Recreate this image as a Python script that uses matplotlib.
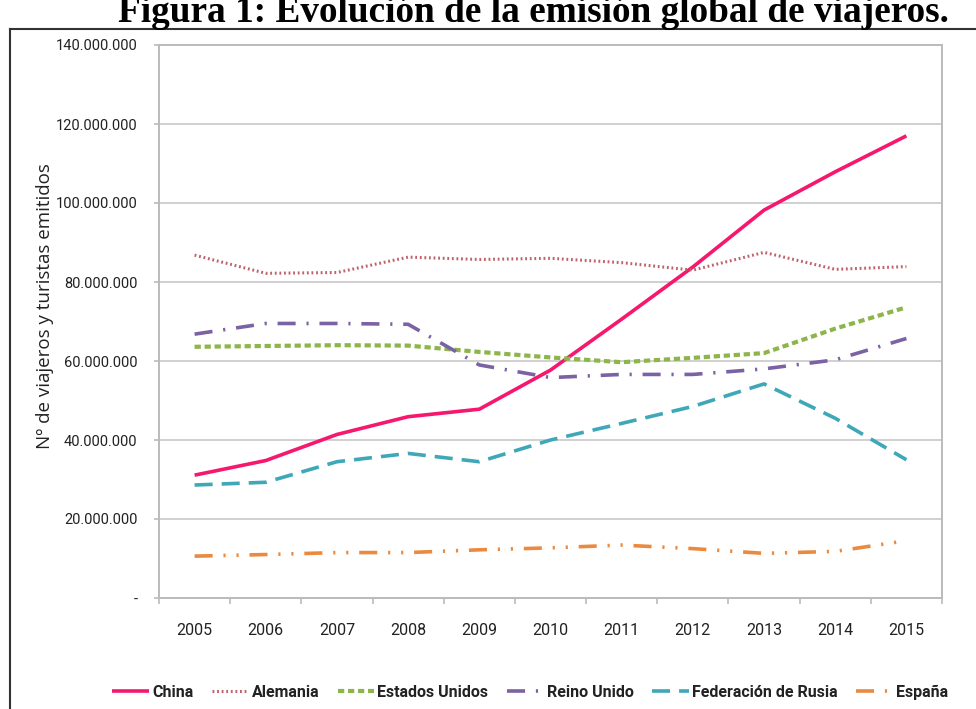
import matplotlib
matplotlib.use("Agg")
import matplotlib.pyplot as plt
from matplotlib.ticker import FuncFormatter, FixedLocator
from matplotlib.lines import Line2D

years = ["2005", "2006", "2007", "2008", "2009", "2010", "2011", "2012", "2013", "2014", "2015"]
china = [31.1, 34.8, 41.4, 45.9, 47.8, 57.7, 70.6, 83.8, 98.2, 107.9, 117.0]
alemania = [86.8, 82.2, 82.4, 86.3, 85.7, 86.0, 84.9, 83.0, 87.5, 83.2, 83.9]
estados_unidos = [63.6, 63.8, 64.0, 63.9, 62.3, 60.9, 59.7, 60.8, 62.0, 68.2, 73.6]
reino_unido = [66.8, 69.5, 69.5, 69.3, 59.0, 55.8, 56.6, 56.6, 58.0, 60.3, 65.7]
rusia = [28.6, 29.3, 34.5, 36.6, 34.5, 40.0, 44.2, 48.5, 54.2, 45.5, 35.0]
espana = [10.6, 11.0, 11.5, 11.5, 12.2, 12.7, 13.4, 12.5, 11.3, 11.8, 14.5]
series_names = ["China", "Alemania", "Estados Unidos", "Reino Unido", "Federación de Rusia", "España"]
yticks = [0, 20, 40, 60, 80, 100, 120, 140]

title = "Figura 1: Evolución de la emisión global de viajeros."
ylabel = "Nº de viajeros y turistas emitidos"

tick_font = ["Roboto", "DejaVu Sans"]

fig = plt.figure(figsize=(9.76, 7.09), dpi=100)
ax = fig.add_axes([159/976, 1-598/709, (942-159)/976, (598-45)/709])

styles = [
    dict(color="#F5186E", lw=2.6, ls="-"),
    dict(color="#C0626A", lw=2.2, ls=(0, (0.6, 0.9))),
    dict(color="#8DB54A", lw=3.0, ls=(0, (1.5, 0.9))),
    dict(color="#7B62A3", lw=2.6, ls=(0, (5, 3, 0.6, 3))),
    dict(color="#3FA8B8", lw=2.6, ls=(0, (5, 2.5))),
    dict(color="#EB8A3E", lw=2.6, ls=(0, (5, 3, 0.6, 3, 0.6, 3))),
]
data = [china, alemania, estados_unidos, reino_unido, rusia, espana]
x = list(range(len(years)))
handles = []
for vals, st, name in zip(data, styles, series_names):
    ln, = ax.plot(x, vals, label=name, solid_capstyle="butt", dash_capstyle="butt", **st)
    handles.append(ln)

ax.set_xlim(-0.5, len(years) - 0.5)
ax.set_ylim(0, 140)
ax.set_yticks(yticks)
ax.yaxis.set_major_formatter(FuncFormatter(
    lambda v, p: "-" if v == 0 else f"{int(v*1e6):,}".replace(",", ".")))
ax.set_xticks(x)
ax.set_xticklabels(years)
ax.xaxis.set_minor_locator(FixedLocator([i - 0.5 for i in range(len(years) + 1)]))
ax.tick_params(axis="x", which="major", length=0, pad=18, labelsize=11.5, labelcolor="#222222")
ax.tick_params(axis="x", which="minor", length=4, color="#BBBBBB", width=1.2)
ax.tick_params(axis="y", length=3.6, color="#BBBBBB", width=1.2, pad=12, labelsize=10.5, labelcolor="#222222")
for lab in ax.get_xticklabels() + ax.get_yticklabels():
    lab.set_family(tick_font)

ax.grid(axis="y", color="#D0D0D0", lw=1.4)
ax.set_axisbelow(True)
for s in ax.spines.values():
    s.set_color("#BBBBBB")
    s.set_linewidth(1.4)

fig.text(45/976, 1-306/709, ylabel, rotation=90, ha="center", va="center",
         fontsize=13.5, family=["Open Sans", "DejaVu Sans"], color="#222222")

fig.text(533/976, 1-22/709, title, ha="center", va="baseline", fontsize=26.8,
         fontweight="bold", family=["Liberation Serif", "DejaVu Serif"])

# frame
fig.add_artist(Line2D([10/976, 10/976], [0, 1-29/709], transform=fig.transFigure, color="#333333", lw=1.5))
fig.add_artist(Line2D([10/976, 1], [1-29/709, 1-29/709], transform=fig.transFigure, color="#333333", lw=1.5))

leg = fig.legend(handles=handles, loc="center", bbox_to_anchor=(530/976, 1-692/709), ncol=6,
                 frameon=False, handlelength=2.3, handletextpad=0.2, columnspacing=1.15,
                 prop={"family": tick_font, "size": 11.5, "weight": "bold"})
for t in leg.get_texts():
    t.set_color("#222222")

fig.savefig("out.png", dpi=100)
